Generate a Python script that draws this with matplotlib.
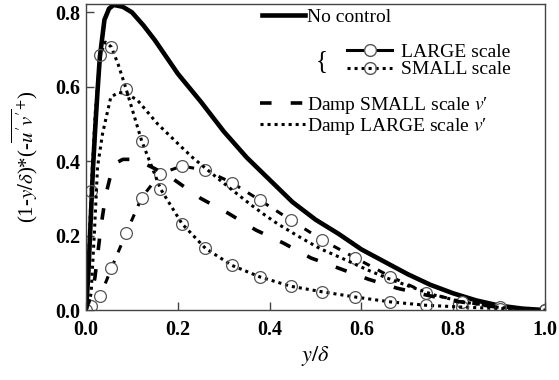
import matplotlib
matplotlib.use('Agg')
from matplotlib import pyplot as plt
from matplotlib.lines import Line2D

plt.rcParams['font.family'] = ['Liberation Serif', 'DejaVu Serif']
plt.rcParams['mathtext.fontset'] = 'stix'

# no control
x_nc = [0, 0.005, 0.01, 0.015, 0.02, 0.025, 0.03, 0.04, 0.05, 0.06, 0.08, 0.1, 0.125, 0.15,
        0.175, 0.2, 0.25, 0.3, 0.35, 0.4, 0.45, 0.5, 0.55, 0.6, 0.65, 0.7, 0.75, 0.8,
        0.85, 0.9, 0.95, 1.0]
y_nc = [0, 0.1, 0.24, 0.38, 0.49, 0.59, 0.68, 0.78, 0.81, 0.82, 0.815, 0.80, 0.765, 0.725,
        0.68, 0.635, 0.56, 0.48, 0.41, 0.35, 0.29, 0.243, 0.205, 0.163, 0.13, 0.097, 0.068,
        0.045, 0.026, 0.012, 0.004, 0]

# LARGE / SMALL scale components (markers)
x_sc = [0, 0.011, 0.031, 0.055, 0.087, 0.121, 0.162, 0.209, 0.26, 0.318, 0.379, 0.446,
        0.515, 0.587, 0.663, 0.74, 0.82, 0.902, 1.0]
y_large = [0, 0.01, 0.038, 0.112, 0.206, 0.302, 0.367, 0.387, 0.376, 0.342, 0.295, 0.242,
           0.188, 0.14, 0.09, 0.047, 0.022, 0.008, 0]

x_small = [0, 0.005, 0.011, 0.02, 0.031, 0.042, 0.055, 0.07, 0.087, 0.121, 0.162, 0.209,
           0.26, 0.318, 0.379, 0.446, 0.515, 0.587, 0.663, 0.74, 0.82, 0.902, 1.0]
y_small = [0, 0.12, 0.32, 0.53, 0.685, 0.72, 0.707, 0.66, 0.595, 0.455, 0.326, 0.232,
           0.166, 0.12, 0.089, 0.064, 0.049, 0.035, 0.022, 0.013, 0.008, 0.004, 0]
small_marks = [0, 2, 4, 6, 8, 9, 10, 11, 12, 13, 14, 15, 16, 17, 18, 19, 20, 21, 22]

# damp SMALL scale v'
x_ds = [0, 0.01, 0.019, 0.033, 0.043, 0.055, 0.065, 0.08, 0.1, 0.12, 0.15, 0.19, 0.25, 0.31,
        0.37, 0.43, 0.49, 0.556, 0.615, 0.677, 0.743, 0.8, 0.9, 1.0]
y_ds = [0, 0.04, 0.085, 0.23, 0.31, 0.37, 0.395, 0.405, 0.405, 0.398, 0.38, 0.352, 0.30,
        0.26, 0.215, 0.18, 0.14, 0.11, 0.083, 0.059, 0.04, 0.025, 0.007, 0]

# damp LARGE scale v'
x_dl = [0, 0.005, 0.011, 0.018, 0.025, 0.036, 0.054, 0.072, 0.09, 0.112, 0.156, 0.213, 0.232,
        0.279, 0.311, 0.359, 0.39, 0.417, 0.467, 0.51, 0.56, 0.613, 0.656, 0.706, 0.76,
        0.82, 0.9, 1.0]
y_dl = [0, 0.015, 0.045, 0.206, 0.385, 0.475, 0.573, 0.585, 0.58, 0.564, 0.50, 0.432, 0.41,
        0.362, 0.33, 0.283, 0.255, 0.232, 0.195, 0.165, 0.138, 0.108, 0.086, 0.063, 0.04,
        0.022, 0.007, 0]

fig = plt.figure(figsize=(5.59, 3.8), dpi=100)
ax = fig.add_axes([0.154, 0.184, 0.821, 0.805])

dot = (0, (1, 1.3))
dash = (0, (3.2, 5.3))
ax.plot(x_nc, y_nc, 'k-', lw=3.3)
ax.plot(x_sc, y_large, color='k', lw=2.2, ls=(0, (2.5, 3)), marker='o', ms=8.5,
        mfc='white', mec='#555555', mew=0.9)
ax.plot(x_small, y_small, color='k', lw=2.2, ls=dot, marker='o', ms=8.5,
        mfc='none', mec='#555555', mew=0.9, markevery=small_marks)
ax.plot(x_ds, y_ds, color='k', lw=2.6, ls=dash)
ax.plot(x_dl, y_dl, color='k', lw=2.2, ls=dot)

ax.set_xlim(0, 1.0)
ax.set_ylim(0, 0.822)
ax.set_xticks([0, 0.2, 0.4, 0.6, 0.8, 1.0])
ax.set_yticks([0, 0.2, 0.4, 0.6, 0.8])
ax.set_xticklabels(['0.0', '0.2', '0.4', '0.6', '0.8', '1.0'], fontweight='bold')
ax.set_yticklabels(['0.0', '0.2', '0.4', '0.6', '0.8'], fontweight='bold')
ax.tick_params(direction='in', length=6, width=1, labelsize=14.5, color='#444444')
ax.tick_params(axis='x', pad=7)
ax.tick_params(axis='y', pad=4)
for s in ax.spines.values():
    s.set_color('#444444')
    s.set_linewidth(1.0)

ax.set_xlabel(r'$y/\delta$', fontsize=16, labelpad=3)
ax.set_ylabel(r"(1-$y/\delta$)*(-$\overline{u'v'}^{+}$)", fontsize=15, labelpad=11)

fs = 14
common = dict(frameon=False, fontsize=fs, borderpad=0, borderaxespad=0, labelspacing=0.0)

h1 = [Line2D([], [], color='k', lw=3.3)]
leg1 = ax.legend(h1, ['No control'], loc='center left', bbox_to_anchor=(0.383, 0.957),
                 handlelength=2.2, handletextpad=0.1, **common)
ax.add_artist(leg1)

h2 = [Line2D([], [], color='k', lw=2.2, marker='o', ms=8.5, mfc='white', mec='#555555'),
      Line2D([], [], color='k', lw=2.2, ls=dot, marker='o', ms=8.5, mfc='none', mec='#555555')]
leg2 = ax.legend(h2, ['LARGE scale', 'SMALL scale'], loc='center left',
                 bbox_to_anchor=(0.569, 0.815), handlelength=2.3, handletextpad=0.45, **common)
ax.add_artist(leg2)

h3 = [Line2D([], [], color='k', lw=2.6, ls=dash),
      Line2D([], [], color='k', lw=2.2, ls=dot)]
ax.legend(h3, ['Damp SMALL scale $v$\u2032', 'Damp LARGE scale $v$\u2032'],
          loc='center left', bbox_to_anchor=(0.379, 0.636),
          handlelength=2.3, handletextpad=0.1, **common)

ax.text(0.514, 0.815, '{', transform=ax.transAxes, fontsize=18, ha='center', va='center')

fig.savefig('out.png', dpi=100)
